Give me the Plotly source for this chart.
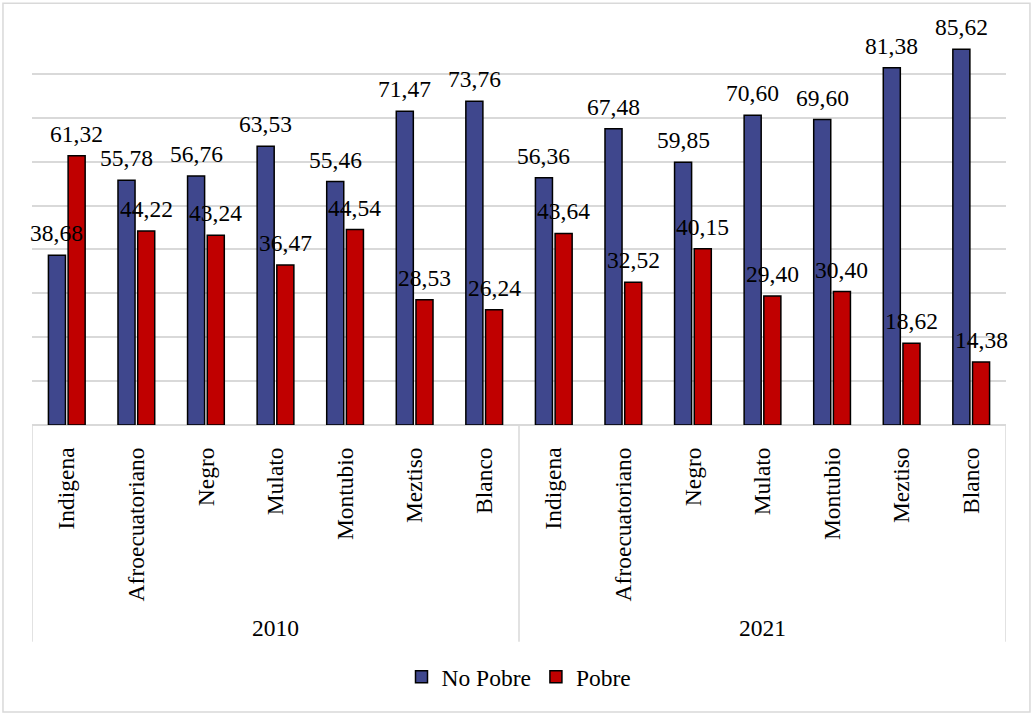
import plotly.graph_objects as go

categories = ["Indigena", "Afroecuatoriano", "Negro", "Mulato", "Montubio", "Meztiso", "Blanco"]
years = ["2010", "2021"]
no_pobre_2010 = [38.68, 55.78, 56.76, 63.53, 55.46, 71.47, 73.76]
pobre_2010 = [61.32, 44.22, 43.24, 36.47, 44.54, 28.53, 26.24]
no_pobre_2021 = [56.36, 67.48, 59.85, 70.60, 69.60, 81.38, 85.62]
pobre_2021 = [43.64, 32.52, 40.15, 29.40, 30.40, 18.62, 14.38]

no_pobre = no_pobre_2010 + no_pobre_2021
pobre = pobre_2010 + pobre_2021
labels = categories + categories
xs = list(range(len(labels)))

FONT = "'Liberation Serif', 'Times New Roman', Times, serif"
FS = 23.5
BLUE = "#3F478D"
RED = "#C00000"
GRID = "#D9D9D9"

BW = 0.245
OFF_B = -0.264
OFF_R = 0.019

fig = go.Figure()
fig.add_trace(go.Bar(x=xs, y=no_pobre, name="No Pobre", width=BW, offset=OFF_B,
                     marker=dict(color=BLUE, line=dict(color="black", width=1.5))))
fig.add_trace(go.Bar(x=xs, y=pobre, name="Pobre", width=BW, offset=OFF_R,
                     marker=dict(color=RED, line=dict(color="black", width=1.5))))

def fmt(v):
    return f"{v:.2f}".replace(".", ",")

ann = []
for i, v in enumerate(no_pobre):
    ann.append(dict(x=i + OFF_B + BW / 2, y=v, xref="x", yref="y", text=fmt(v), showarrow=False,
                    yanchor="middle", yshift=22, font=dict(family=FONT, size=FS, color="black")))
for i, v in enumerate(pobre):
    ann.append(dict(x=i + OFF_R + BW / 2, y=v, xref="x", yref="y", text=fmt(v), showarrow=False,
                    yanchor="middle", yshift=22, font=dict(family=FONT, size=FS, color="black")))

n = len(categories)
for k, yr in enumerate(years):
    ann.append(dict(x=k * n + (n - 1) / 2, y=-0.514, xref="x", yref="paper", text=yr, showarrow=False,
                    yanchor="middle", font=dict(family=FONT, size=FS, color="black")))

shapes = []
for xv in [-0.5, n - 0.5, 2 * n - 0.5]:
    shapes.append(dict(type="line", xref="x", yref="paper", x0=xv, x1=xv, y0=0, y1=-0.549,
                       line=dict(color=GRID, width=1.5)))
shapes.append(dict(type="rect", xref="paper", yref="paper", x0=-0.0298, x1=1.0246, y0=-0.7266, y1=1.068,
                   line=dict(color=GRID, width=1.5), layer="below"))

fig.update_layout(
    width=1035, height=716,
    margin=dict(l=32, r=29, t=30, b=291),
    paper_bgcolor="white", plot_bgcolor="white",
    font=dict(family=FONT, size=FS, color="black"),
    showlegend=True,
    legend=dict(orientation="h", x=0.5, xanchor="center", y=-0.638, yanchor="middle",
                font=dict(family=FONT, size=FS, color="black"), itemwidth=30),
    annotations=ann,
    shapes=shapes,
    xaxis=dict(range=[-0.5, 2 * n - 0.5], tickmode="array", tickvals=xs, ticktext=labels,
               tickangle=-90, ticks="outside", ticklen=12, tickcolor="rgba(0,0,0,0)",
               showgrid=False, zeroline=False, showline=False,
               tickfont=dict(family=FONT, size=FS, color="black")),
    yaxis=dict(range=[0, 90], dtick=10, showticklabels=False, showgrid=True, gridcolor=GRID,
               gridwidth=1.5, zeroline=True, zerolinecolor=GRID, zerolinewidth=1.5, showline=False),
)

fig.write_html("out.html")
